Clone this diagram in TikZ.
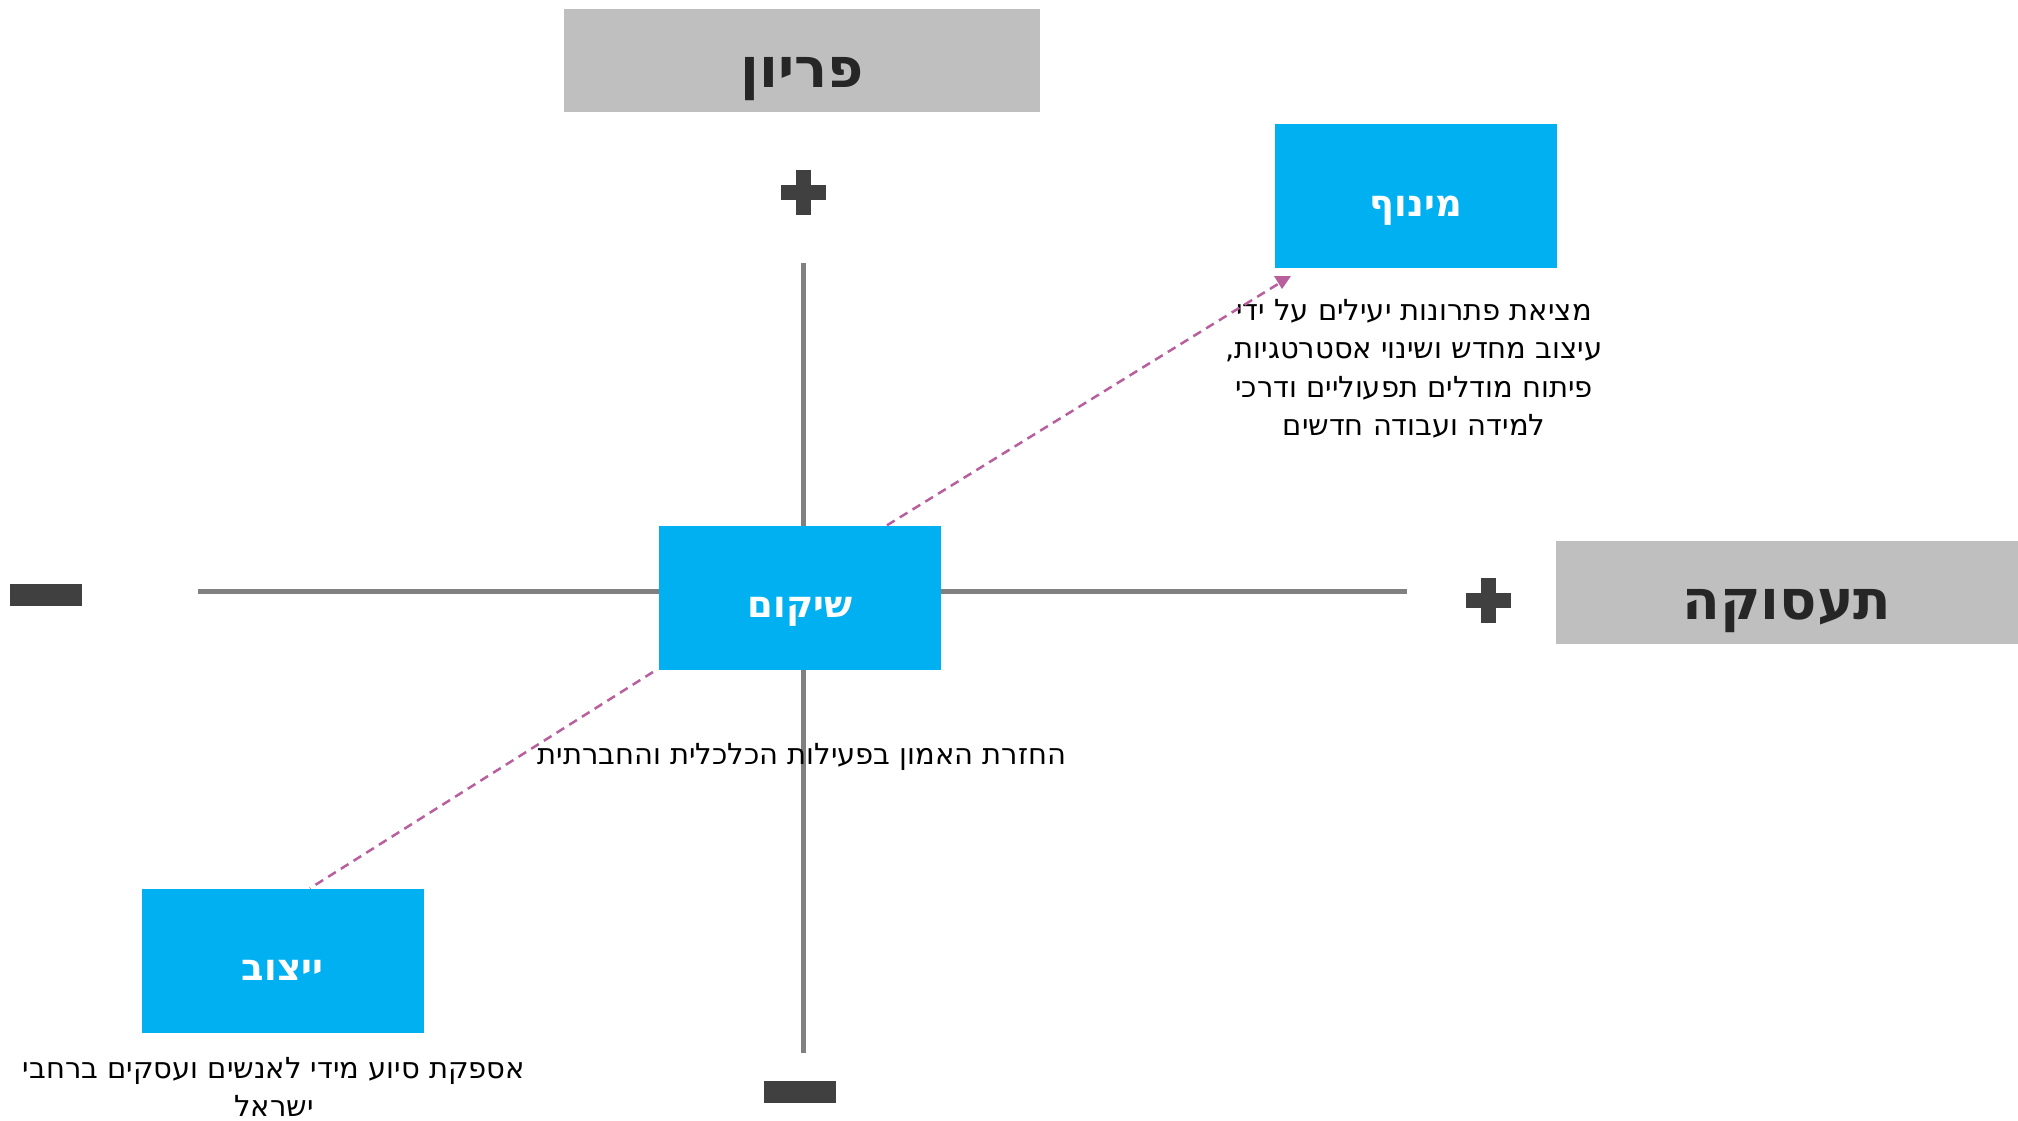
\documentclass[tikz,border=0pt]{standalone}
\usepackage{fontspec}
\TeXXeTstate=1
\newfontfamily\hebtext[Script=Hebrew]{DejaVu Sans}
\newfontfamily\hebtitle[Script=Hebrew]{DejaVu Sans}
\definecolor{boxblue}{HTML}{00B0F0}
\definecolor{boxgrey}{HTML}{BFBFBF}
\definecolor{titlegrey}{HTML}{262626}
\definecolor{signgrey}{HTML}{404040}
\definecolor{axisgrey}{HTML}{808080}
\definecolor{linkpink}{HTML}{B8609E}
\tikzset{
  greybox/.style={fill=boxgrey, draw=none, inner sep=0pt, minimum width=476pt, minimum height=103pt,
    text=titlegrey, text height=54pt, text depth=0pt, font=\hebtitle\bfseries\fontsize{55}{60}\selectfont},
  bluebox/.style={fill=boxblue, draw=none, inner sep=0pt, minimum width=282pt, minimum height=144pt,
    text=white, text height=40pt, text depth=0pt, font=\hebtitle\bfseries\fontsize{37}{42}\selectfont},
  desc/.style={text=black, align=center, inner sep=0pt, font=\hebtext\fontsize{29}{38.5}\selectfont},
  axisline/.style={draw=axisgrey, line width=5pt},
  linkline/.style={draw=linkpink, line width=2.5pt, dash pattern=on 9pt off 6pt},
  minusbar/.style={fill=signgrey, draw=none, inner sep=0pt, minimum width=72pt, minimum height=22pt},
  plusbar/.style={fill=signgrey, draw=none, inner sep=0pt},
}
\newcommand{\plussign}[2]{%
  \node[plusbar, minimum width=45pt, minimum height=15pt] (#1h) at (#2) {};
  \node[plusbar, minimum width=15pt, minimum height=45pt] (#1v) at (#2) {};
}
\begin{document}
\begin{tikzpicture}[x=1pt,y=-1pt]
\fill[white] (0,0) rectangle (2018,1121);
\useasboundingbox (0,0) rectangle (2018,1121);

% axes
\coordinate (vtop) at (803,263);
\coordinate (vbot) at (803,1053);
\coordinate (hleft) at (198,591);
\coordinate (hright) at (1407,591);
\draw[axisline] (vtop) -- (vbot);
\draw[axisline] (hleft) -- (hright);

% axis titles
\node[greybox] (prod) at (802,60.5) {\beginR פריון\endR};
\node[greybox, minimum width=462pt] (empl) at (1787,592.5) {\beginR תעסוקה\endR};

% signs
\plussign{plustop}{803,192}
\plussign{plusright}{1488,600}
\node[minusbar] (minusleft) at (46,595) {};
\node[minusbar] (minusbot) at (800,1092) {};

% boxes
\node[bluebox] (minuf) at (1416,196) {\beginR מינוף\endR};
\node[bluebox] (shikum) at (800,597.5) {\beginR שיקום\endR};
\node[bluebox] (yetzuv) at (282.5,960.5) {\beginR ייצוב\endR};

% descriptions
\node[desc] (minufdesc) at (1414,369) {\beginR מציאת פתרונות יעילים על ידי\endR\\
\beginR עיצוב מחדש ושינוי אסטרטגיות,\endR\\
\beginR פיתוח מודלים תפעוליים ודרכי\endR\\
\beginR למידה ועבודה חדשים\endR};
\node[desc] (shikumdesc) at (802,757) {\beginR החזרת האמון בפעילות הכלכלית והחברתית\endR};
\node[desc] (yetzuvdesc) at (274,1087) {\beginR אספקת סיוע מידי לאנשים ועסקים ברחבי\endR\\
\beginR ישראל\endR};

% dashed links
\coordinate (linkAstart) at (shikum.north -| 887,0);
\coordinate (linkAend) at (1278,284);
\draw[linkline] (linkAstart) -- (linkAend);
\fill[linkpink] (1274,276) -- (1291,276) -- (1282,289) -- cycle;
\coordinate (linkBstart) at (653,672);
\coordinate (linkBend) at (yetzuv.north -| 310,0);
\draw[linkline] (linkBstart) -- (linkBend);
\end{tikzpicture}
\end{document}
